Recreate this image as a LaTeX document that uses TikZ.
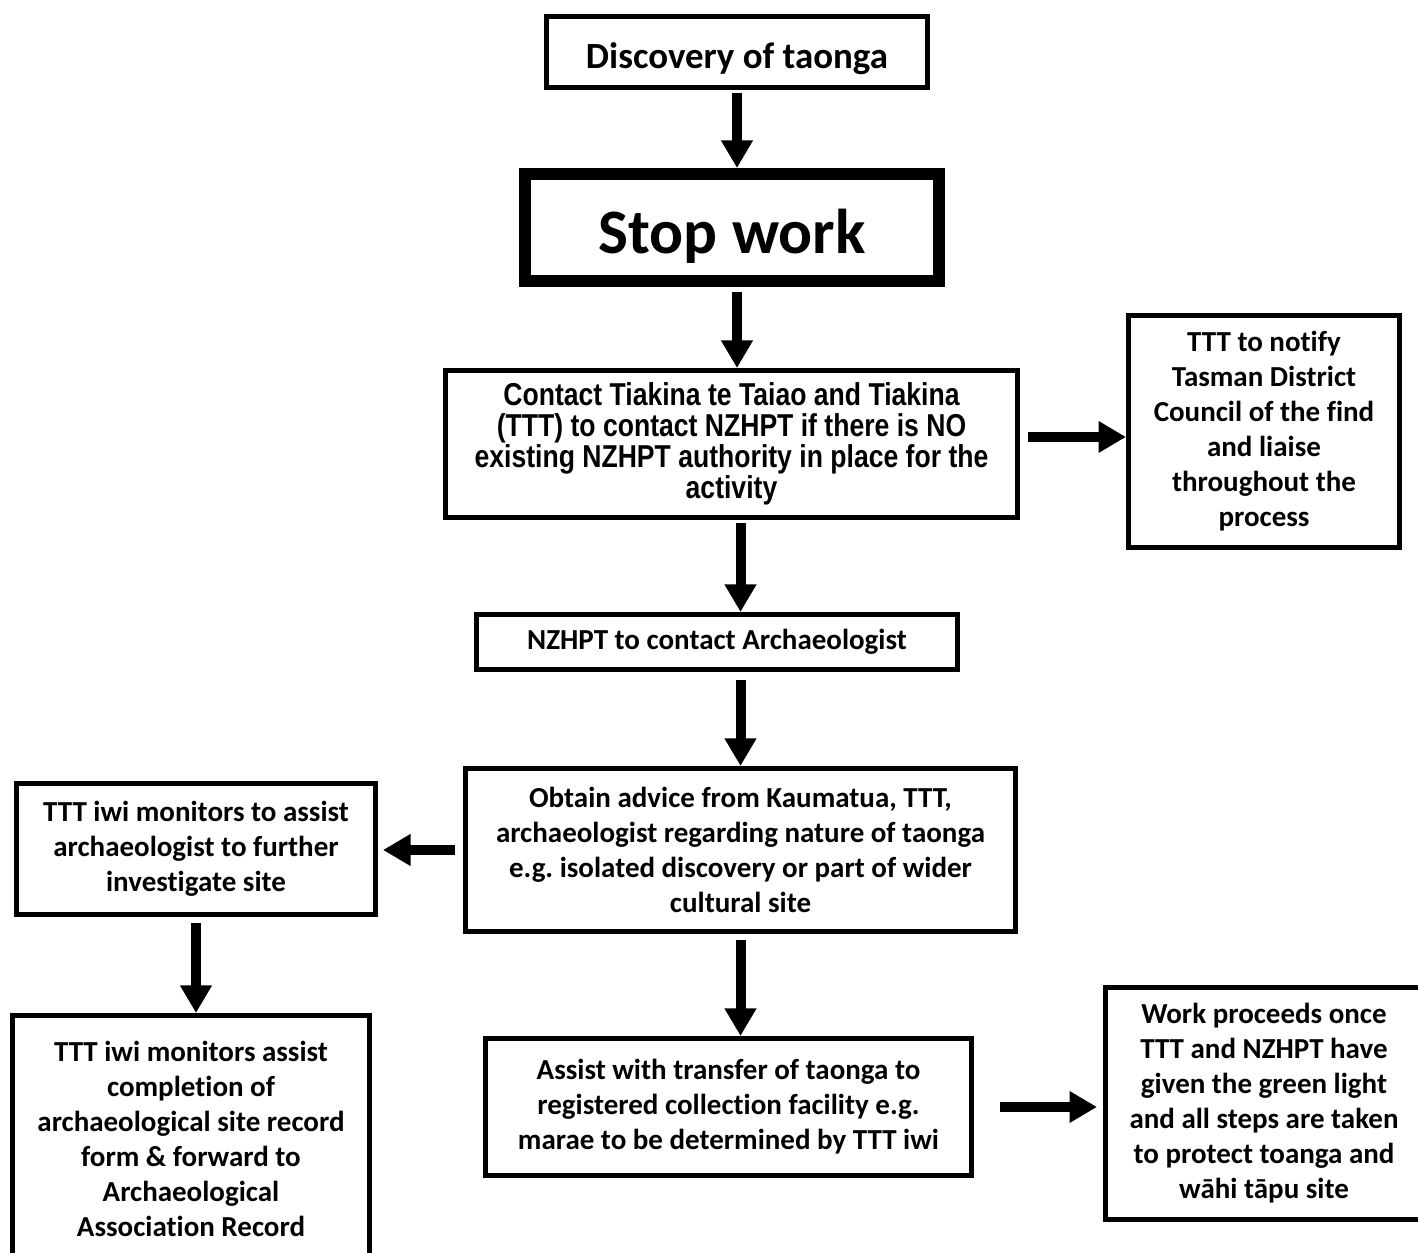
\documentclass[tikz,border=0pt]{standalone}
\usepackage{fontspec}
\setmainfont{Carlito}[Ligatures={NoCommon,NoRare,NoContextual}]
\newfontfamily\narrowfont[FakeStretch=0.84]{Liberation Sans}
\usepackage{tikz}
\usetikzlibrary{shapes.geometric, arrows.meta}
\frenchspacing

\begin{document}
\begin{tikzpicture}[box/.style={draw, line width=0.1cm, align=center, inner sep=0pt,
    font=\bfseries\fontsize{16.5}{19.9}\selectfont},
  arr/.style={line width=0.2cm, -{Triangle[length=0.55cm, width=0.6cm]}}]

\useasboundingbox (0,0) rectangle (28.36,25.06);

\node[box, minimum width=7.62cm, minimum height=1.42cm, text height=0.68cm, text depth=0cm, font=\bfseries\fontsize{21}{25}\selectfont] (A0) at (14.74,24.02) {Discovery of taonga};
\node[box, line width=0.24cm, minimum width=8.28cm, minimum height=2.14cm, text height=1.05cm, text depth=0cm, font=\bfseries\fontsize{36}{40}\selectfont] (A) at (14.64,20.51) {Stop work};
\node[box, minimum width=11.44cm, minimum height=2.94cm, font=\narrowfont\bfseries\fontsize{18}{17.6}\selectfont] (B) at (14.63,16.18) {Contact Tiakina te Taiao and Tiakina\\(TTT) to contact NZHPT if there is NO\\existing NZHPT authority in place for the\\activity};
\node[box, minimum width=5.42cm, minimum height=4.64cm] (B2) at (25.28,16.43) {TTT to notify\\Tasman District\\Council of the find\\and liaise\\throughout the\\process};
\node[box, minimum width=9.62cm, minimum height=1.1cm] (C) at (14.34,12.22) {NZHPT to contact Archaeologist};
\node[box, minimum width=11cm, minimum height=3.26cm] (D) at (14.81,8.06) {Obtain advice from Kaumatua, TTT,\\archaeologist regarding nature of taonga\\e.g. isolated discovery or part of wider\\cultural site};
\node[box, minimum width=7.18cm, minimum height=2.62cm] (D2) at (3.92,8.08) {TTT iwi monitors to assist\\archaeologist to further\\investigate site};
\node[box, minimum width=7.14cm, minimum height=4.94cm] (E2) at (3.82,2.28) {TTT iwi monitors assist\\completion of\\archaeological site record\\form \& forward to\\Archaeological\\Association Record};
\node[box, minimum width=9.72cm, minimum height=2.74cm] (E) at (14.57,2.92) {Assist with transfer of taonga to\\registered collection facility e.g.\\marae to be determined by TTT iwi};
\node[box, minimum width=6.34cm, minimum height=4.64cm] (E3) at (25.28,2.99) {Work proceeds once\\TTT and NZHPT have\\given the green light\\and all steps are taken\\to protect toanga and\\wāhi tāpu site};

\draw[arr, shorten <=0.06cm] (A0.south) -- (A0.south |- A.north);
\draw[arr, shorten <=0.1cm] (A0.south |- A.south) -- (A0.south |- B.north);
\draw[arr, shorten <=0.16cm] ([yshift=0.14cm]B.east) -- ([yshift=0.14cm]B.east -| B2.west);
\draw[arr, shorten <=0.06cm] (D.north |- B.south) -- (D.north |- C.north);
\draw[arr, shorten <=0.16cm] (D.north |- C.south) -- (D.north);
\draw[arr, shorten <=0.16cm, shorten >=0.1cm] (D.west) -- (D.west -| D2.east);
\draw[arr, shorten <=0.12cm] (D2.south) -- (D2.south |- E2.north);
\draw[arr, shorten <=0.12cm] (D.south) -- (D.south |- E.north);
\draw[arr, shorten <=0.52cm, shorten >=0.12cm] (E.east) -- (E.east -| E3.west);
\end{tikzpicture}
\end{document}
